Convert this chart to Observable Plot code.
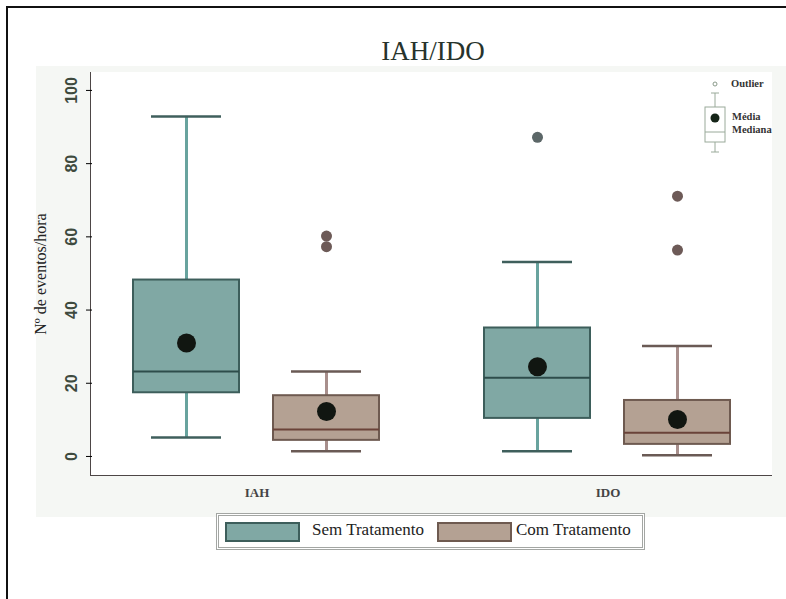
<!DOCTYPE html>
<html>
<head>
<meta charset="utf-8">
<script src="https://cdn.jsdelivr.net/npm/d3@7"></script>
<script src="https://cdn.jsdelivr.net/npm/@observablehq/plot@0.6"></script>
<style>
  body { margin: 0; background: #fff; }
  #wrap { position: relative; width: 786px; height: 599px; overflow: hidden; font-family: "Liberation Serif", serif; }
  #frame { position: absolute; left: 6px; top: 6px; width: 800px; height: 600px; border-top: 2px solid #111; border-left: 2px solid #111; }
  #panel { position: absolute; left: 36px; top: 66px; width: 750px; height: 451px; background: #f5f7f4; }
  #plotbg { position: absolute; left: 90px; top: 72px; width: 682px; height: 404px; box-sizing: border-box; background: #fff; border-left: 1.5px solid #4d4646; border-bottom: 1.5px solid #4d4646; }
  #chart { position: absolute; left: 0; top: 0; }
  #title { position: absolute; left: 333px; width: 200px; top: 36px; text-align: center; font-family: "Liberation Serif", serif; font-size: 27px; color: #27332c; }
  #legend { position: absolute; left: 216px; top: 513px; width: 429px; height: 37px; box-sizing: border-box; border: 3px double #a3a6a3; background: #fff; }
  .sw { position: absolute; top: 6px; width: 75px; height: 20px; box-sizing: border-box; border: 2px solid; }
  .lt { position: absolute; top: 4px; font-family: "Liberation Serif", serif; font-size: 17px; color: #222; white-space: nowrap; }
  #inset { position: absolute; left: 700px; top: 78px; }
  .il { position: absolute; font-family: "Liberation Serif", serif; font-size: 10.5px; font-weight: bold; color: #333; white-space: nowrap; }
  svg [aria-label="y-axis tick label"] text { font-family: "Liberation Sans", sans-serif; font-weight: bold; font-size: 16px; fill: #3e4a3e; }
  svg [aria-label="y-axis label"] text { font-family: "Liberation Serif", serif; font-size: 16px; fill: #222; }
</style>
</head>
<body>
<div id="wrap">
  <div id="frame"></div>
  <div id="panel"></div>
  <div id="plotbg"></div>
  <div id="chart"></div>
  <div id="title">IAH/IDO</div>
  <svg id="inset" width="30" height="80">
    <circle cx="15" cy="6" r="2" fill="none" stroke="#8a9a8a"></circle>
    <line x1="11" x2="19" y1="15" y2="15" stroke="#9aaa9a"></line>
    <line x1="15" x2="15" y1="15" y2="29" stroke="#9aaa9a"></line>
    <rect x="5" y="29" width="20" height="35" fill="none" stroke="#9aaa9a"></rect>
    <circle cx="15" cy="40" r="4.5" fill="#152518"></circle>
    <line x1="5" x2="25" y1="54" y2="54" stroke="#9aaa9a"></line>
    <line x1="15" x2="15" y1="64" y2="74" stroke="#9aaa9a"></line>
    <line x1="11" x2="19" y1="74" y2="74" stroke="#9aaa9a"></line>
  </svg>
  <div class="il" style="left:731px; top:78px;">Outlier</div>
  <div class="il" style="left:732px; top:111px;">Média</div>
  <div class="il" style="left:732px; top:124px;">Mediana</div>
  <div id="legend">
    <div class="sw" style="left:6px; background:#80a8a4; border-color:#3d5e5b;"></div>
    <div class="lt" style="left:93px;">Sem Tratamento</div>
    <div class="sw" style="left:218px; background:#b4a193; border-color:#6e5a50;"></div>
    <div class="lt" style="left:297px;">Com Tratamento</div>
  </div>
</div>
<script>
// ---- data ----
const groups = ["IAH", "IAH", "IDO", "IDO"];
const treatments = ["Sem Tratamento", "Com Tratamento", "Sem Tratamento", "Com Tratamento"];
const whiskerLow = [5.2, 1.4, 1.4, 0.3];
const q1 = [17.4, 4.4, 10.4, 3.3];
const median = [23.2, 7.4, 21.5, 6.5];
const q3 = [48.2, 16.6, 35.1, 15.3];
const whiskerHigh = [92.9, 23.2, 53.1, 30.2];
const mean = [31.0, 12.3, 24.5, 10.1];

const outlierGroups = ["IAH", "IAH", "IDO", "IDO", "IDO"];
const outlierTreatments = ["Com Tratamento", "Com Tratamento", "Sem Tratamento", "Com Tratamento", "Com Tratamento"];
const outlierValues = [60.2, 57.3, 87.2, 71.1, 56.4];

const groupDomain = ["IAH", "IDO"];
const treatmentDomain = ["Sem Tratamento", "Com Tratamento"];
const yTicks = [0, 20, 40, 60, 80, 100];

// ---- styles per treatment ----
const style = {
  "Sem Tratamento": {fill: "#80a8a4", stroke: "#3d5e5b", whisker: "#68a39e", cap: "#3f5f5c", median: "#2e4d4b", outlier: "#5c6768"},
  "Com Tratamento": {fill: "#b4a193", stroke: "#6e5a50", whisker: "#a88f8c", cap: "#6a5a55", median: "#6a4339", outlier: "#6d5a57"}
};

const stats = groups.map((g, i) => ({
  group: g, treat: treatments[i], lo: whiskerLow[i], q1: q1[i], med: median[i], q3: q3[i], hi: whiskerHigh[i], mean: mean[i]
}));
const outliers = outlierValues.map((v, i) => ({group: outlierGroups[i], treat: outlierTreatments[i], value: v}));

const marks = [
  Plot.axisFx({anchor: "bottom", tickSize: 0, tickPadding: 12, label: null,
               fontSize: 13, fontWeight: "bold", fontFamily: "Liberation Serif, serif", fill: "#444"})
];
for (const t of treatmentDomain) {
  const s = stats.filter(d => d.treat === t);
  const o = outliers.filter(d => d.treat === t);
  const c = style[t];
  marks.push(
    Plot.ruleX(s, {fx: "group", x: "treat", y1: "lo", y2: "q1", stroke: c.whisker, strokeWidth: 3}),
    Plot.ruleX(s, {fx: "group", x: "treat", y1: "q3", y2: "hi", stroke: c.whisker, strokeWidth: 3}),
    Plot.tickY(s, {fx: "group", x: "treat", y: "lo", stroke: c.cap, strokeWidth: 2.5, inset: 18}),
    Plot.tickY(s, {fx: "group", x: "treat", y: "hi", stroke: c.cap, strokeWidth: 2.5, inset: 18}),
    Plot.barY(s, {fx: "group", x: "treat", y1: "q1", y2: "q3", fill: c.fill, stroke: c.stroke, strokeWidth: 2}),
    Plot.tickY(s, {fx: "group", x: "treat", y: "med", stroke: c.median, strokeWidth: 2}),
    Plot.dot(s, {fx: "group", x: "treat", y: "mean", r: 9.5, fill: "#111611", stroke: "none"}),
    Plot.dot(o, {fx: "group", x: "treat", y: "value", r: 5.5, fill: c.outlier, stroke: "none"})
  );
}

const chart = Plot.plot({
  width: 786,
  height: 515,
  marginLeft: 91,
  marginRight: 14,
  marginTop: 72,
  marginBottom: 40,
  style: {background: "transparent", overflow: "visible"},
  fx: {domain: groupDomain, paddingInner: 0.064, paddingOuter: 0},
  x: {domain: treatmentDomain, paddingInner: 0.24, paddingOuter: 0.29, axis: null},
  y: {domain: [-5.2, 104.9], ticks: yTicks, tickSize: 6, tickRotate: -90, tickPadding: 10,
      label: "Nº de eventos/hora", labelAnchor: "center", labelOffset: 58, labelArrow: "none"},
  marks
});
document.getElementById("chart").appendChild(chart);
</script>
</body>
</html>
